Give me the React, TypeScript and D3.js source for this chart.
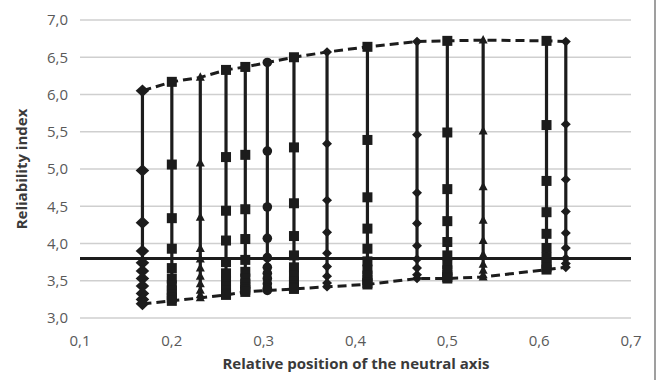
import React from "react";
import * as d3 from "d3";

const W = 657;
const H = 380;

const xTicks = [0.1, 0.2, 0.3, 0.4, 0.5, 0.6, 0.7];
const yTicks = [3.0, 3.5, 4.0, 4.5, 5.0, 5.5, 6.0, 6.5, 7.0];
const targetReliability = 3.8;

const xPositions = [0.168, 0.2, 0.231, 0.259, 0.28, 0.304, 0.333, 0.369, 0.413, 0.467, 0.5, 0.539, 0.608, 0.629];
const markerShapes = ["diamondL", "square", "triangle", "square", "square", "circle", "square", "diamond", "square", "diamond", "square", "triangle", "square", "diamond"];

const col1 = [6.05, 4.98, 4.28, 3.9, 3.74, 3.63, 3.53, 3.43, 3.33, 3.25, 3.19];
const col2 = [6.17, 5.06, 4.34, 3.93, 3.67, 3.53, 3.44, 3.37, 3.31, 3.27, 3.23];
const col3 = [6.23, 5.08, 4.35, 3.93, 3.79, 3.67, 3.56, 3.46, 3.37, 3.31, 3.27];
const col4 = [6.33, 5.16, 4.44, 4.04, 3.75, 3.6, 3.5, 3.42, 3.37, 3.33, 3.31];
const col5 = [6.37, 5.19, 4.46, 4.06, 3.78, 3.62, 3.53, 3.46, 3.41, 3.38, 3.35];
const col6 = [6.43, 5.24, 4.49, 4.07, 3.81, 3.68, 3.6, 3.53, 3.46, 3.4, 3.37];
const col7 = [6.5, 5.29, 4.54, 4.1, 3.84, 3.68, 3.57, 3.49, 3.44, 3.41, 3.39];
const col8 = [6.57, 5.34, 4.58, 4.15, 3.87, 3.69, 3.56, 3.47, 3.42];
const col9 = [6.64, 5.39, 4.62, 4.2, 3.93, 3.76, 3.65, 3.57, 3.51, 3.47, 3.45];
const col10 = [6.71, 5.46, 4.68, 4.27, 3.97, 3.79, 3.67, 3.58, 3.53];
const col11 = [6.72, 5.49, 4.73, 4.3, 4.02, 3.84, 3.72, 3.64, 3.58, 3.55, 3.53];
const col12 = [6.73, 5.51, 4.76, 4.31, 4.04, 3.85, 3.72, 3.64, 3.58, 3.55];
const col13 = [6.72, 5.59, 4.84, 4.42, 4.13, 3.94, 3.81, 3.73, 3.68, 3.65];
const col14 = [6.71, 5.6, 4.86, 4.43, 4.14, 3.94, 3.8, 3.73, 3.68];

const columns = [col1, col2, col3, col4, col5, col6, col7, col8, col9, col10, col11, col12, col13, col14];

const fmt = (v: number) => d3.format(".1f")(v).replace(".", ",");

const DARK = "#1c1c1c";

function Marker({ shape, cx, cy }: { shape: string; cx: number; cy: number }) {
  if (shape === "square") {
    const s = 10;
    return <rect x={cx - s / 2} y={cy - s / 2} width={s} height={s} fill={DARK} />;
  }
  if (shape === "circle") {
    return <circle cx={cx} cy={cy} r={4.8} fill={DARK} />;
  }
  if (shape === "triangle") {
    const w = 9, h = 8.5;
    return <path d={`M${cx},${cy - h * 0.6} L${cx + w / 2},${cy + h * 0.4} L${cx - w / 2},${cy + h * 0.4} Z`} fill={DARK} />;
  }
  const big = shape === "diamondL";
  const hw = big ? 6.8 : 5;
  const hh = big ? 6.3 : 4.8;
  return <path d={`M${cx},${cy - hh} L${cx + hw},${cy} L${cx},${cy + hh} L${cx - hw},${cy} Z`} fill={DARK} />;
}

export default function App() {
  const x = d3.scaleLinear().domain([0.1, 0.7]).range([80, 631]);
  const y = d3.scaleLinear().domain([3.0, 7.0]).range([318, 20]);

  const line = d3
    .line<[number, number]>()
    .x((d) => x(d[0]))
    .y((d) => y(d[1]));

  const topPts: [number, number][] = columns.map((c, i) => [xPositions[i], c[0]]);
  const botPts: [number, number][] = columns.map((c, i) => [xPositions[i], c[c.length - 1]]);

  const font = "'Open Sans', 'Liberation Sans', sans-serif";

  return (
    <svg width={W} height={H} style={{ position: "absolute", left: 0, top: 0, background: "#fff" }}>
      <rect x={0} y={0} width={W} height={H} fill="#fff" />
      {yTicks.map((t) => (
        <line key={"g" + t} x1={x(0.1)} x2={x(0.7)} y1={y(t)} y2={y(t)} stroke="#cfcfcf" strokeWidth={1.5} />
      ))}
      <line x1={x(0.1)} x2={x(0.7)} y1={y(targetReliability)} y2={y(targetReliability)} stroke={DARK} strokeWidth={3} />
      {columns.map((c, i) => (
        <line
          key={"v" + i}
          x1={x(xPositions[i])}
          x2={x(xPositions[i])}
          y1={y(c[0])}
          y2={y(c[c.length - 1])}
          stroke={DARK}
          strokeWidth={3.2}
        />
      ))}
      <path d={line(topPts) || ""} fill="none" stroke={DARK} strokeWidth={3} strokeDasharray="9,5" />
      <path d={line(botPts) || ""} fill="none" stroke={DARK} strokeWidth={3} strokeDasharray="9,5" />
      {columns.map((c, i) =>
        c.map((v, j) => <Marker key={`m${i}-${j}`} shape={markerShapes[i]} cx={x(xPositions[i])} cy={y(v)} />)
      )}
      {yTicks.map((t) => (
        <text key={"yl" + t} x={68} y={y(t)} dy="0.35em" textAnchor="end" fontFamily={font} fontSize={15} fill="#595959">
          {fmt(t)}
        </text>
      ))}
      {xTicks.map((t) => (
        <text key={"xl" + t} x={x(t)} y={341} dy="0.35em" textAnchor="middle" fontFamily={font} fontSize={15} fill="#595959">
          {fmt(t)}
        </text>
      ))}
      <text
        transform={`translate(22,${(y(3) + y(7)) / 2}) rotate(-90)`}
        textAnchor="middle"
        dy="0.35em"
        fontFamily={font}
        fontSize={15}
        fontWeight="bold"
        fill="#3a3a3a"
      >
        Reliability index
      </text>
      <text x={356} y={364} dy="0.35em" textAnchor="middle" fontFamily={font} fontSize={15} fontWeight="bold" fill="#3a3a3a">
        Relative position of the neutral axis
      </text>
      <line x1={655} x2={655} y1={0} y2={H} stroke="#7f7f7f" strokeWidth={1.5} />
    </svg>
  );
}
